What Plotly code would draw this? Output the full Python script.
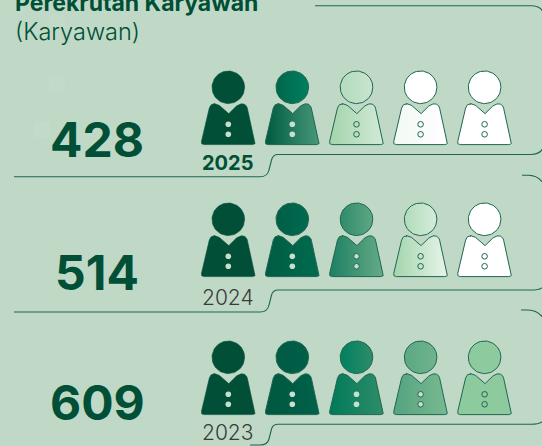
import numpy as np
import plotly.graph_objects as go

YEARS = ["2025", "2024", "2023"]
TOTALS = [428, 514, 609]
ROW_HEAD_Y = [87.3, 219.3, 357.3]
ICON_X = [228.3, 292.3, 356.5, 420.6, 484.6]
NUM_Y = [139, 272, 402]
YEAR_Y = [163, 297, 432]
YEAR_BOLD = [True, False, False]

# (left colour, right colour) per icon: heads then bodies
HEADS = [
    [("#004f36", "#004f36"), ("#00664b", "#00805f"), ("#b3dcbc", "#c8e4cf"), ("#ffffff", "#ffffff"), ("#ffffff", "#ffffff")],
    [("#004f36", "#004f36"), ("#005f46", "#006a4e"), ("#2f8b6b", "#5ea783"), ("#b0dcb9", "#d6ecda"), ("#ffffff", "#ffffff")],
    [("#004f36", "#004f36"), ("#005b43", "#005f48"), ("#008060", "#2f8c69"), ("#5ba884", "#6fb48d"), ("#8dcb9e", "#8dcb9e")],
]
BODIES = [
    [("#004f36", "#004f36"), ("#005a40", "#48987a"), ("#a3d5ac", "#d2e9d7"), ("#f2f9f4", "#ffffff"), ("#ffffff", "#ffffff")],
    [("#004f36", "#004f36"), ("#005c44", "#006b4e"), ("#1c8062", "#66ab87"), ("#a3d5ac", "#e8f4ea"), ("#ffffff", "#ffffff")],
    [("#004f36", "#004f36"), ("#005840", "#006149"), ("#007a59", "#2f8c69"), ("#55a380", "#78ba90"), ("#8dcb9e", "#8dcb9e")],
]
# 0 light dot, 1 light dot with ring, 2 open ring
BTN_STYLE = [
    [0, 0, 2, 2, 2],
    [0, 0, 1, 2, 2],
    [0, 0, 0, 1, 2],
]
FAINT_X = [57, 57, 42]
FAINT_Y = [22, 84, 130]

BG = "#bfd9c6"
INK = "#004f36"
LINE = "#1f6650"


def rounded(points, r):
    xs, ys = [], []
    n = len(points)
    for i, (p, rad) in enumerate(zip(points, r)):
        p = np.array(p, float)
        a = np.array(points[i - 1], float)
        b = np.array(points[(i + 1) % n], float)
        d1 = (a - p) / np.linalg.norm(a - p)
        d2 = (b - p) / np.linalg.norm(b - p)
        s, e = p + d1 * rad, p + d2 * rad
        for t in np.linspace(0, 1, 8):
            q = (1 - t) ** 2 * s + 2 * t * (1 - t) * p + t ** 2 * e
            xs.append(q[0]); ys.append(q[1])
    xs.append(xs[0]); ys.append(ys[0])
    return np.array(xs), np.array(ys)


BODY_PTS = [(-27.6, 57.3), (-18.0, 16.5), (-10.5, 16.5), (0, 26.8), (10.5, 16.5), (18.0, 16.5), (27.6, 57.3)]
BODY_R = [3.5, 4.5, 4, 1.2, 4, 4.5, 3.5]
bx, by = rounded(BODY_PTS, BODY_R)
ang = np.linspace(0, 2 * np.pi, 73)
hx, hy = 16.3 * np.cos(ang), 16.3 * np.sin(ang)

fig = go.Figure()


def blob(x, y, c, outlined):
    fig.add_trace(go.Scatter(
        x=x, y=y, mode="lines", fill="toself", hoverinfo="skip", showlegend=False,
        line=dict(color=LINE if outlined else c[0], width=1.0 if outlined else 0.6),
        fillgradient=dict(type="horizontal", colorscale=[[0, c[0]], [1, c[1]]]),
    ))


fig.add_trace(go.Scatter(x=FAINT_X, y=FAINT_Y, mode="markers", hoverinfo="skip", showlegend=False,
                         marker=dict(symbol="square", size=16, color="#c2dbc9")))

for r, hy0 in enumerate(ROW_HEAD_Y):
    for i, x0 in enumerate(ICON_X):
        outlined = i > 0
        blob(x0 + hx, hy0 + hy, HEADS[r][i], outlined)
        blob(x0 + bx, hy0 + by, BODIES[r][i], outlined)
        st = BTN_STYLE[r][i]
        fig.add_trace(go.Scatter(
            x=[x0, x0], y=[hy0 + 37, hy0 + 47], mode="markers", hoverinfo="skip", showlegend=False,
            marker=dict(size=5.6,
                        color="rgba(0,0,0,0)" if st == 2 else "#c6e0cd",
                        line=dict(color=LINE, width=0 if st == 0 else 1.0)),
        ))

FRAMES = [
    "M315,5.7 L531,5.7 Q542,5.7 544,15",
    "M544,146 Q541,154.5 531,154.5 L278,154.5 Q273,154.5 271.5,160 L269,170 Q267.5,176.7 260,176.7 L14,176.7",
    "M522,175.3 L528,175.3 Q538,175.3 544,184",
    "M544,286 Q541,290 531,290 L278,290 Q273,290 271.5,295 L269,305 Q267.5,312 260,312 L14,312",
    "M521,310 L528,310 Q538,310 544,319",
    "M544,420 Q541,424.3 531,424.3 L278,424.3 Q273,424.3 271.5,429 L269,439 Q267.5,445 260,445 L250,445",
]
shapes = [dict(type="path", path=p, xref="x", yref="y", line=dict(color=LINE, width=1.1)) for p in FRAMES]

F = "Inter"
ann = [
    dict(x=13, y=2.5, text="<b>Perekrutan Karyawan</b>", font=dict(family=F, size=23, color=INK), xanchor="left", yanchor="middle"),
    dict(x=13, y=31, text="(Karyawan)", font=dict(family=F, size=23.5, weight=300, color=INK), xanchor="left", yanchor="middle"),
]
for t, y, yr, yy, bold in zip(TOTALS, NUM_Y, YEARS, YEAR_Y, YEAR_BOLD):
    ann.append(dict(x=97, y=y, text=f"<b>{t}</b>", font=dict(family=F, size=48, color=INK), xanchor="center", yanchor="middle"))
    ann.append(dict(x=227.5, y=yy, text=f"<b>{yr}</b>" if bold else yr,
                    font=dict(family=F, size=20 if bold else 21, color=INK if bold else "#3a3a3a", weight=700 if bold else 300),
                    xanchor="center", yanchor="middle"))
for a in ann:
    a.update(showarrow=False, xref="x", yref="y")

fig.update_layout(
    width=542, height=446, margin=dict(l=0, r=0, t=0, b=0),
    paper_bgcolor=BG, plot_bgcolor=BG, shapes=shapes, annotations=ann,
    xaxis=dict(range=[0, 542], visible=False, fixedrange=True),
    yaxis=dict(range=[446, 0], visible=False, fixedrange=True),
)
fig.write_html("out.html", post_script="document.body.style.margin='0';document.body.style.background='#bfd9c6';document.body.style.overflow='hidden';",
               config=dict(displayModeBar=False))
